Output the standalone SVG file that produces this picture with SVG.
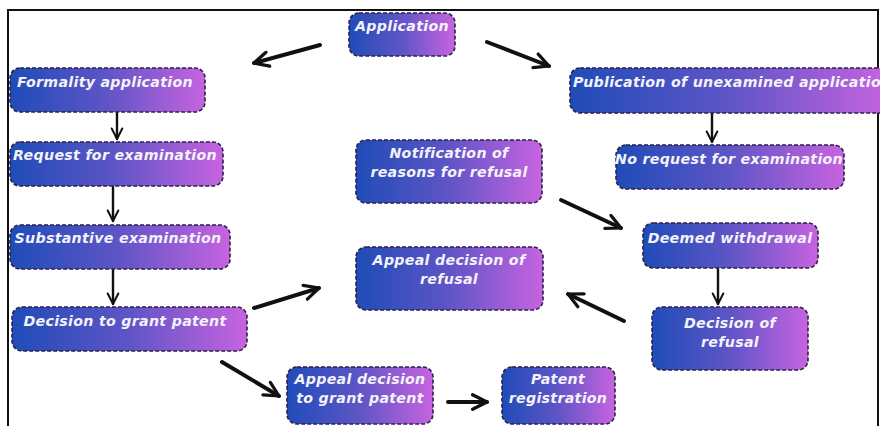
<svg xmlns="http://www.w3.org/2000/svg" width="880" height="426" viewBox="0 0 880 426">
  <style>
    .box { fill: url(#boxFill); stroke: #2b2148; stroke-width: 1.6; stroke-dasharray: 4 2; }
    .lbl { font-family: "DejaVu Sans", "Open Sans", sans-serif; font-weight: 700; font-style: italic; font-size: 14.2px; letter-spacing: 0.3px; fill: #f4f2fb; text-anchor: middle; }
    .thin { fill: none; stroke: #111; stroke-width: 2.4; stroke-linecap: round; marker-end: url(#headThin); }
    .thick { fill: none; stroke: #111; stroke-width: 4; stroke-linecap: round; marker-end: url(#headThick); }
  </style>
  <defs>
    <linearGradient id="boxFill" x1="0" y1="0" x2="1" y2="0">
      <stop offset="0" stop-color="#1f4cb8"/>
      <stop offset="0.5" stop-color="#5f55c6"/>
      <stop offset="1" stop-color="#c763e0"/>
    </linearGradient>
    <marker id="headThin" viewBox="0 0 10 10" refX="9" refY="5" markerWidth="5.5" markerHeight="5.5" orient="auto" markerUnits="strokeWidth">
      <path d="M1,1 L9,5 L1,9" fill="none" stroke="#111" stroke-width="1.5" stroke-linecap="round" stroke-linejoin="round"/>
    </marker>
    <marker id="headThick" viewBox="0 0 10 10" refX="9" refY="5" markerWidth="4.5" markerHeight="4.5" orient="auto" markerUnits="strokeWidth">
      <path d="M1,1 L9,5 L1,9" fill="none" stroke="#111" stroke-width="1.8" stroke-linecap="round" stroke-linejoin="round"/>
    </marker>
  </defs>

  <rect width="880" height="426" fill="#ffffff"/>

  <!-- frame -->
  <path d="M8,426 V10 H878 V426" fill="none" stroke="#111" stroke-width="2"/>

  <g id="connectors">
    <path class="thick" d="M320,45 L254,63"/>
    <path class="thick" d="M487,42 L549,66"/>
    <path class="thin" d="M117,113 V139"/>
    <path class="thin" d="M113,187 V221"/>
    <path class="thin" d="M113,270 V304"/>
    <path class="thin" d="M712,114 V142"/>
    <path class="thick" d="M561,200 L621,228"/>
    <path class="thin" d="M718,269 V304"/>
    <path class="thick" d="M624,321 L568,294"/>
    <path class="thick" d="M254,308 L319,288"/>
    <path class="thick" d="M222,362 L279,396"/>
    <path class="thick" d="M448,402 L487,402"/>
  </g>

  <g id="application">
    <rect class="box" x="349" y="13" width="106" height="43" rx="10"/>
    <text class="lbl" x="402" y="31">Application</text>
  </g>
  <g id="formality-application">
    <rect class="box" x="10" y="68" width="195" height="44" rx="10"/>
    <text class="lbl" x="105" y="87">Formality application</text>
  </g>
  <g id="publication">
    <rect class="box" x="570" y="68" width="320" height="45" rx="10"/>
    <text class="lbl" x="573" y="87" style="text-anchor:start">Publication of unexamined application</text>
  </g>
  <g id="request-examination">
    <rect class="box" x="10" y="142" width="213" height="44" rx="10"/>
    <text class="lbl" x="115" y="160">Request for examination</text>
  </g>
  <g id="no-request">
    <rect class="box" x="616" y="145" width="228" height="44" rx="10"/>
    <text class="lbl" x="729" y="164">No request for examination</text>
  </g>
  <g id="notification">
    <rect class="box" x="356" y="140" width="186" height="63" rx="10"/>
    <text class="lbl" x="449" y="158">Notification of</text>
    <text class="lbl" x="449" y="177">reasons for refusal</text>
  </g>
  <g id="substantive-examination">
    <rect class="box" x="10" y="225" width="220" height="44" rx="10"/>
    <text class="lbl" x="118" y="243">Substantive examination</text>
  </g>
  <g id="deemed-withdrawal">
    <rect class="box" x="643" y="223" width="175" height="45" rx="10"/>
    <text class="lbl" x="730" y="243">Deemed withdrawal</text>
  </g>
  <g id="appeal-refusal">
    <rect class="box" x="356" y="247" width="187" height="63" rx="10"/>
    <text class="lbl" x="449" y="265">Appeal decision of</text>
    <text class="lbl" x="449" y="284">refusal</text>
  </g>
  <g id="decision-grant">
    <rect class="box" x="12" y="307" width="235" height="44" rx="10"/>
    <text class="lbl" x="125" y="326">Decision to grant patent</text>
  </g>
  <g id="decision-refusal">
    <rect class="box" x="652" y="307" width="156" height="63" rx="10"/>
    <text class="lbl" x="730" y="328">Decision of</text>
    <text class="lbl" x="730" y="347">refusal</text>
  </g>
  <g id="appeal-grant">
    <rect class="box" x="287" y="367" width="146" height="57" rx="10"/>
    <text class="lbl" x="360" y="384">Appeal decision</text>
    <text class="lbl" x="360" y="403">to grant patent</text>
  </g>
  <g id="patent-registration">
    <rect class="box" x="502" y="367" width="113" height="57" rx="10"/>
    <text class="lbl" x="558" y="384">Patent</text>
    <text class="lbl" x="558" y="403">registration</text>
  </g>
</svg>
